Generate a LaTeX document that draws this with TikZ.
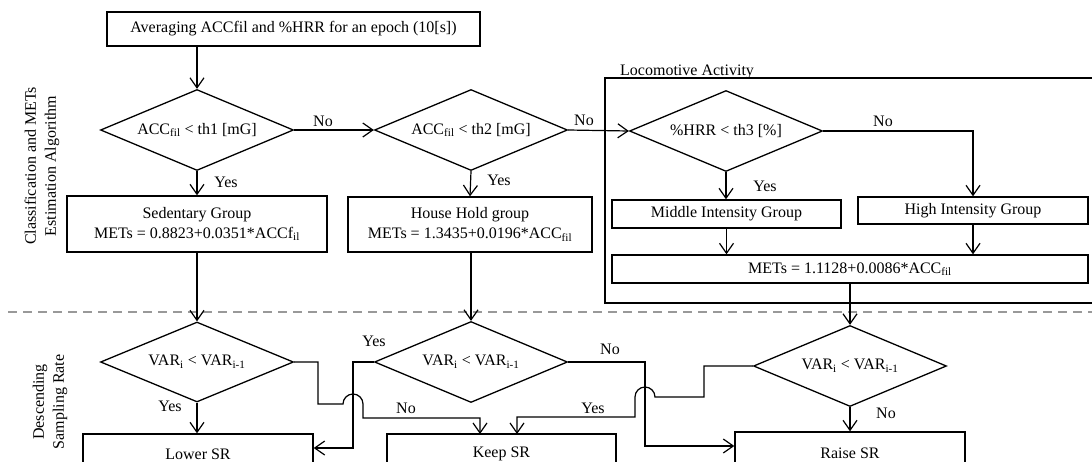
\documentclass[tikz,border=0pt]{standalone}
\usepackage{fontspec}
\setmainfont{Liberation Serif}
\usetikzlibrary{arrows.meta,shapes.geometric,calc}
\begin{document}
\begin{tikzpicture}[x=1pt,y=-1pt,
  font=\fontsize{16}{20}\selectfont,
  every node/.style={inner sep=0pt},
  flow/.style={line width=1.2pt},
  arr/.style={flow,-{Straight Barb[length=10pt,width=14pt,line width=1.2pt]}},
  procbox/.style={draw,line width=1.4pt,rectangle,align=center},
  decision/.style={draw,line width=1.3pt,diamond,aspect=2.4,minimum width=193pt,minimum height=81pt}
]
\useasboundingbox (0,0) rectangle (1092,461);
\begin{scope}
\clip (0,0) rectangle (1092,461);

% section divider
\draw[gray!80,line width=1.5pt,dash pattern=on 9pt off 6pt] (8,312) -- (1092,312);

% side titles
\node[rotate=90,align=center] (t1) at (42,166) {Classification and METs\\Estimation Algorithm};
\node[rotate=90,align=center] (t2) at (50,402) {Descending\\Sampling Rate};

% locomotive frame
\draw[line width=1.4pt] (605,78) rectangle (1110,303);
\node[anchor=base west] (loc) at (620,75) {Locomotive Activity};

% process boxes
\node[procbox,minimum width=373pt,minimum height=34pt] (top) at (293.5,29) {Averaging ACCfil and \%HRR for an epoch (10[s])};
\node[procbox,minimum width=260pt,minimum height=56pt] (sed) at (197,224) {Sedentary Group\\METs = 0.8823+0.0351*ACCf\textsubscript{il}};
\node[procbox,minimum width=244pt,minimum height=55pt] (house) at (470,224.5) {House Hold group\\METs = 1.3435+0.0196*ACC\textsubscript{fil}};
\node[procbox,minimum width=229pt,minimum height=28pt] (mid) at (726.5,214) {\raisebox{-3pt}{Middle Intensity Group}};
\node[procbox,minimum width=230pt,minimum height=27pt] (high) at (973,210.5) {High Intensity Group};
\node[procbox,minimum width=476pt,minimum height=28pt] (mets) at (850,269) {\raisebox{-2pt}{METs = 1.1128+0.0086*ACC\textsubscript{fil}}};
\node[procbox,minimum width=230pt,minimum height=40pt] (lower) at (198,454) {Lower SR};
\node[procbox,minimum width=229pt,minimum height=40pt] (keep) at (501.5,454) {Keep SR};
\node[procbox,minimum width=230pt,minimum height=42pt] (raise) at (850,453) {Raise SR};

% decisions
\node[decision] (d1) at (197,130) {ACC\textsubscript{fil} < th1 [mG]};
\node[decision] (d2) at (471,130) {ACC\textsubscript{fil} < th2 [mG]};
\node[decision] (d3) at (726,131) {\%HRR < th3 [\%]};
\node[decision,minimum height=80pt] (d4) at (197,362) {VAR\textsubscript{i} < VAR\textsubscript{i-1}};
\node[decision] (d5) at (471,362) {VAR\textsubscript{i} < VAR\textsubscript{i-1}};
\node[decision] (d6) at (850,366) {VAR\textsubscript{i} < VAR\textsubscript{i-1}};

% classification flow
\draw[arr] (top.south -| d1.north) -- (d1.north);
\draw[arr] (d1.east) -- (d2.west);
\node (no1) at (323,121) {No};
\draw[arr] (d1.south) -- (sed.north);
\node (yes1) at (226,182) {Yes};
\draw[arr] (d2.east) -- (d3.west);
\node (no2) at (584,120) {No};
\draw[arr] (d2.south) -- (house.north);
\node (yes2) at (499,180) {Yes};
\draw[arr] (d3.east) -| (high.north);
\node (no3) at (883,121) {No};
\draw[arr] (d3.south) -- (d3.south |- mid.north);
\node (yes3) at (765,186) {Yes};
\draw[arr] (mid.south) -- (mid.south |- mets.north);
\draw[arr] (high.south) -- (high.south |- mets.north);

% into sampling-rate decisions
\draw[arr] (sed.south) -- (d4.north);
\draw[arr] (house.south -| d5.north) -- (d5.north);
\draw[arr] (mets.south -| d6.north) -- (d6.north);

% sampling-rate flow
\draw[arr] (d4.south) -- (d4.south |- lower.north);
\node (yes4) at (170,406) {Yes};

\coordinate (j1) at (353,404);
\draw[arr] (d4.east) -- (318,362) -- (318,404) -- ($(j1)+(-10,0)$)
  arc[start angle=180,end angle=0,radius=10pt] -- (363,418) -- (480,418) -- (480,434);
\node (no4) at (406,408) {No};

\draw[arr] (d5.west) -- (353,362) -- (353,448) -- (lower.east |- 0,448);
\node (yes5) at (374,341) {Yes};

\coordinate (j2) at (645,397);
\draw[arr] (d5.east) -- (645,362) -- (645,446) -- (raise.west |- 0,446);
\node (no5) at (610,349) {No};

\draw[arr] (d6.west) -- (704,366) -- (704,397) -- ($(j2)+(10,0)$)
  arc[start angle=0,end angle=180,radius=10pt] -- (635,417) -- (517,417) -- (517,434);
\node (yes6) at (593,408) {Yes};

\draw[arr] (d6.south) -- (d6.south |- raise.north);
\node (no6) at (886,413) {No};
\end{scope}
\end{tikzpicture}
\end{document}
